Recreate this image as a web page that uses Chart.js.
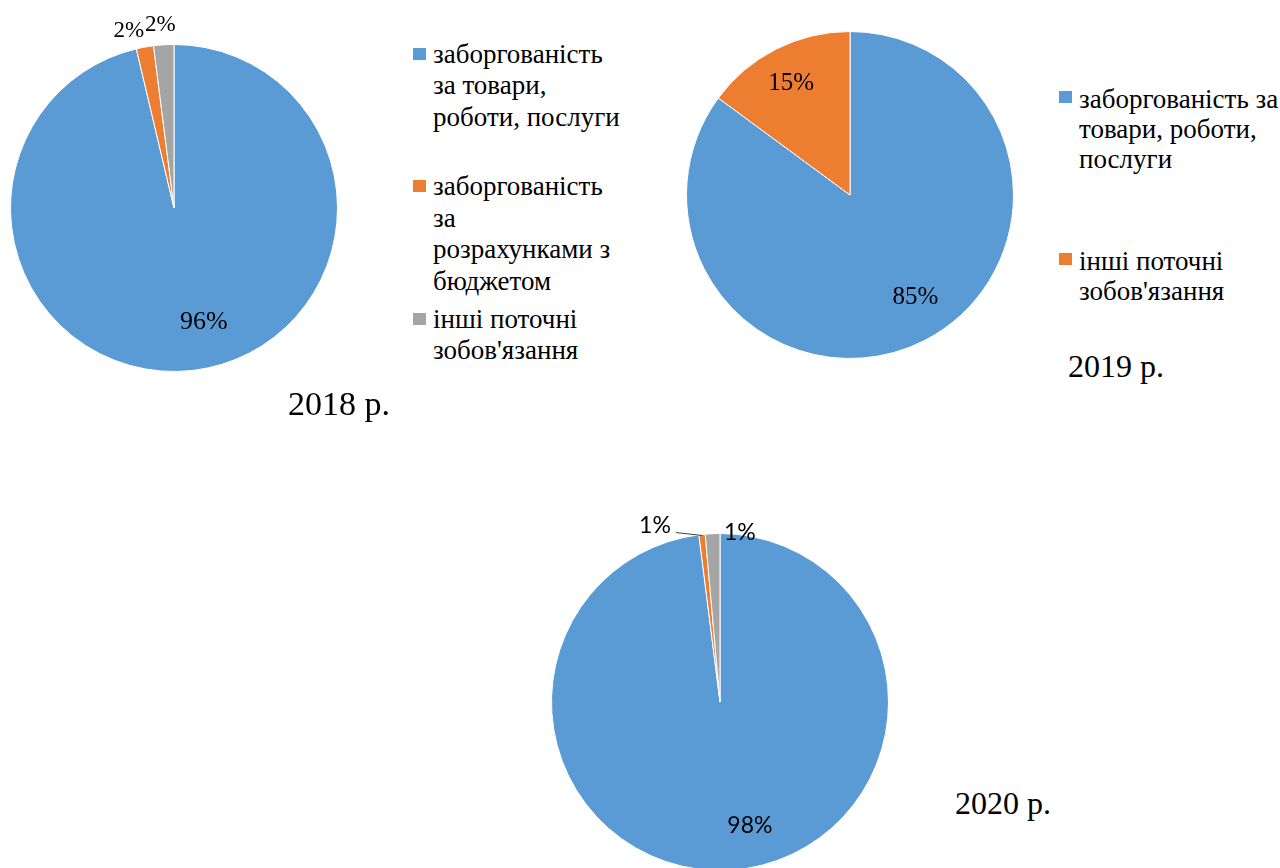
<!DOCTYPE html>
<html><head><meta charset="utf-8">
<script src="https://cdn.jsdelivr.net/npm/chart.js@4/dist/chart.umd.min.js"></script>
<style>
html,body{margin:0;padding:0;background:#fff;width:1280px;height:868px;overflow:hidden;position:relative}
canvas{position:absolute}
.legend{position:absolute;font-family:"Liberation Serif","Times New Roman",serif;font-size:27px;color:#000;white-space:nowrap}
.item{position:relative;padding-left:20px;box-sizing:border-box}
.sw{position:absolute;left:0;width:13px;height:12px}
.title{position:absolute;font-family:"Liberation Serif","Times New Roman",serif;color:#000;white-space:nowrap}
</style></head><body>
<canvas id="c2018" width="360" height="420" style="left:0;top:0"></canvas>
<canvas id="c2019" width="380" height="390" style="left:660px;top:0"></canvas>
<canvas id="c2020" width="400" height="400" style="left:520px;top:480px"></canvas>
<div id="lg2018" class="legend" style="left:413px;top:38.5px;line-height:31.5px"></div>
<div id="lg2019" class="legend" style="left:1059px;top:84px;line-height:30px"></div>
<div class="title" style="left:288px;top:386.5px;font-size:34px;line-height:34px">2018 р.</div>
<div class="title" style="left:1068px;top:350px;font-size:32px;line-height:32px">2019 р.</div>
<div class="title" style="left:955px;top:786.5px;font-size:32px;line-height:32px">2020 р.</div>
<script>
// ---- data ----
const categories2018 = ["заборгованість за товари, роботи, послуги", "заборгованість за розрахунками з бюджетом", "інші поточні зобов'язання"];
const values2018 = [96.3, 1.7, 2.0];
const legendLines2018 = [["заборгованість", "за товари,", "роботи, послуги"], ["заборгованість", "за", "розрахунками з", "бюджетом"], ["інші поточні", "зобов'язання"]];
const categories2019 = ["заборгованість за товари, роботи, послуги", "інші поточні зобов'язання"];
const values2019 = [85.1, 14.9];
const legendLines2019 = [["заборгованість за", "товари, роботи,", "послуги"], ["інші поточні", "зобов'язання"]];
const categories2020 = ["заборгованість за товари, роботи, послуги", "заборгованість за розрахунками з бюджетом", "інші поточні зобов'язання"];
const values2020 = [98.0, 0.6, 1.4];

const colors3 = ["#5B9BD5", "#ED7D31", "#A5A5A5"];
const colors2 = ["#5B9BD5", "#ED7D31"];

const sliceLabels = {
  id: 'sliceLabels',
  afterDatasetsDraw(chart, args, opts) {
    const ctx = chart.ctx;
    const meta = chart.getDatasetMeta(0);
    const data = chart.data.datasets[0].data;
    const total = data.reduce((a, b) => a + b, 0);
    ctx.save();
    ctx.fillStyle = '#000';
    ctx.textAlign = 'center';
    ctx.textBaseline = 'middle';
    meta.data.forEach((arc, i) => {
      const p = arc.getProps(['x', 'y', 'startAngle', 'endAngle', 'outerRadius'], true);
      const cfg = opts.items[i];
      ctx.font = (cfg.size || opts.size) + 'px ' + opts.family;
      const mid0 = (p.startAngle + p.endAngle) / 2;
      const mid = mid0 + cfg.dAngle * Math.PI / 180;
      const r = p.outerRadius * cfg.dist;
      const lx = p.x + Math.cos(mid) * r, ly = p.y + Math.sin(mid) * r;
      const txt = Math.round(data[i] / total * 100) + '%';
      ctx.fillText(txt, lx, ly);
      if (cfg.leader) {
        const w = ctx.measureText(txt).width;
        ctx.strokeStyle = '#404040';
        ctx.lineWidth = 1;
        ctx.beginPath();
        ctx.moveTo(lx + w / 2 + 5, ly + 7);
        ctx.lineTo(p.x + Math.cos(mid0) * p.outerRadius, p.y + Math.sin(mid0) * p.outerRadius + 1);
        ctx.stroke();
      }
    });
    ctx.restore();
  }
};

function makePie(id, cats, vals, cols, padding, labelOpts) {
  return new Chart(document.getElementById(id), {
    type: 'pie',
    data: { labels: cats, datasets: [{ data: vals, backgroundColor: cols, borderColor: '#ffffff', borderWidth: 1 }] },
    options: {
      responsive: false, animation: false,
      layout: { padding: padding },
      plugins: { legend: { display: false }, tooltip: { enabled: false }, sliceLabels: labelOpts }
    },
    plugins: [sliceLabels]
  });
}

const serifFam = '"Liberation Serif", "Times New Roman", serif';
makePie('c2018', categories2018, values2018, colors3, { left: 10, top: 44, right: 22, bottom: 48 },
  { family: serifFam, size: 26, items: [{ dist: 0.72, dAngle: -8 }, { dist: 1.12, dAngle: -4.0, size: 23 }, { dist: 1.12, dAngle: -0.7, size: 23 }] });
makePie('c2019', categories2019, values2019, colors2, { left: 26, top: 31, right: 26, bottom: 31 },
  { family: serifFam, size: 25, items: [{ dist: 0.745, dAngle: -5.6 }, { dist: 0.77, dAngle: -1 }] });
makePie('c2020', categories2020, values2020, colors3, { left: 31, top: 53, right: 31, bottom: 9 },
  { family: 'Lato, "Liberation Sans", sans-serif', size: 23, items: [{ dist: 0.755, dAngle: -10 }, { dist: 1.116, dAngle: -14.1, leader: true }, { dist: 1.012, dAngle: 9.2 }] });

function buildLegend(elId, lines, cols, slot, swTop) {
  const el = document.getElementById(elId);
  lines.forEach((ls, i) => {
    const it = document.createElement('div');
    it.className = 'item';
    it.style.height = slot + 'px';
    const sw = document.createElement('span');
    sw.className = 'sw';
    sw.style.top = swTop + 'px';
    sw.style.background = cols[i];
    it.appendChild(sw);
    ls.forEach(t => { const d = document.createElement('div'); d.textContent = t; it.appendChild(d); });
    el.appendChild(it);
  });
}
buildLegend('lg2018', legendLines2018, colors3, 132.7, 9);
buildLegend('lg2019', legendLines2019, colors2, 161.7, 7);
</script>
</body></html>
